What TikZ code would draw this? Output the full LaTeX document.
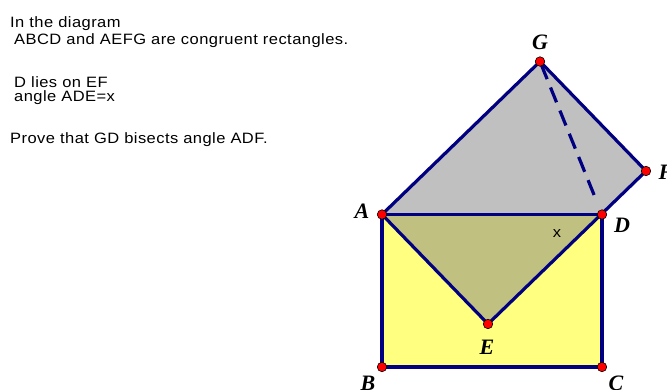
\documentclass[tikz,border=0pt]{standalone}
\usepackage{fontspec}
\setmainfont{Liberation Sans}
\newfontfamily\lblfont{Liberation Serif}
\newfontfamily\notefont[FakeStretch=1.1,LetterSpace=3]{Liberation Sans}
\definecolor{edgeblue}{RGB}{0,0,128}
\definecolor{grayfill}{RGB}{192,192,192}
\definecolor{yellowfill}{RGB}{255,255,128}
\definecolor{olivefill}{RGB}{192,192,128}
\definecolor{ptred}{RGB}{255,0,0}
\begin{document}
\begin{tikzpicture}[x=1pt,y=-1pt,
  edge/.style={draw=edgeblue,line width=3.2pt,line join=round,line cap=round},
  pt/.style={circle,fill=ptred,draw=black,line width=0.6pt,inner sep=0pt,minimum size=9.5pt},
  lbl/.style={font=\lblfont\fontsize{22}{22}\selectfont\bfseries\itshape,inner sep=0pt},
  txt/.style={font=\notefont\fontsize{15}{18}\selectfont,anchor=base west,inner sep=0pt}]
\useasboundingbox (0,0) rectangle (667,390);
\coordinate (A) at (382,214.5);
\coordinate (B) at (382,367);
\coordinate (C) at (602,367);
\coordinate (D) at (602,214.5);
\coordinate (E) at (488,324);
\coordinate (F) at (646,171);
\coordinate (G) at (540,61.5);
% fills
\fill[grayfill] (A) -- (E) -- (F) -- (G) -- cycle;
\fill[yellowfill] (A) -- (B) -- (C) -- (D) -- cycle;
\fill[olivefill] (A) -- (E) -- (D) -- cycle;
% edges
\draw[edge] (A) -- (E) -- (F) -- (G) -- cycle;
\draw[edge] (A) -- (B) -- (C) -- (D) -- cycle;
\draw[edge,dashed,dash pattern=on 16pt off 9pt,line cap=butt,shorten <=3pt,shorten >=14pt] (G) -- (D);
% points
\foreach \p in {A,B,C,D,E,F,G} \node[pt] (p\p) at (\p) {};
% labels
\node[lbl] (lA) at (362,211) {A};
\node[lbl] (lB) at (368,383) {B};
\node[lbl] (lC) at (616,383) {C};
\node[lbl] (lD) at (622,225) {D};
\node[lbl] (lE) at (487,347) {E};
\node[lbl] (lF) at (666,172) {F};
\node[lbl] (lG) at (540,42) {G};
\node[font=\notefont\fontsize{15}{18}\selectfont,inner sep=0pt] (lx) at (557,234) {x};
% text
\node[txt] (t1) at (10,27.5) {In the diagram};
\node[txt] (t2) at (14,45) {ABCD and AEFG are congruent rectangles.};
\node[txt] (t3) at (14,87.5) {D lies on EF};
\node[txt] (t4) at (14,102) {angle ADE=x};
\node[txt] (t5) at (10,144) {Prove that GD bisects angle ADF.};
\end{tikzpicture}
\end{document}
